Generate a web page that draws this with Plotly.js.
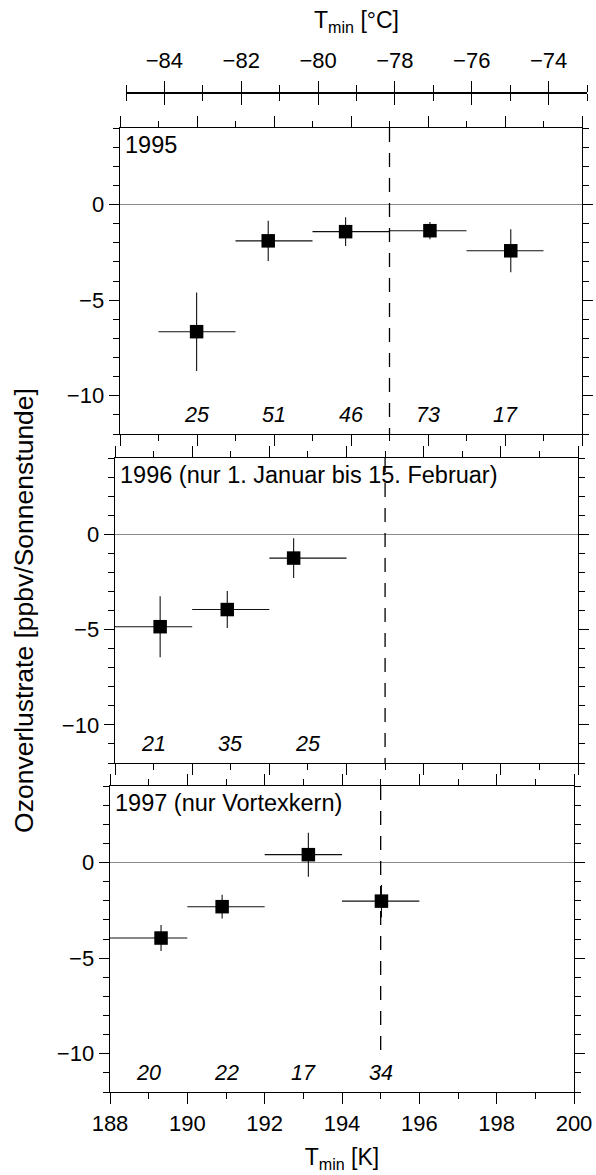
<!DOCTYPE html>
<html>
<head>
<meta charset="utf-8">
<script src="https://cdn.plot.ly/plotly-3.0.1.min.js"></script>
<style>
  html, body { margin: 0; padding: 0; background: #fff; }
  #chart { width: 596px; height: 1175px; }
</style>
</head>
<body>
<div id="chart"></div>
<script>
// ---- data ----
const kelvinRange = [188, 200];
const celsiusRange = [-85, -73];
const rateRange = [-12, 4];
const thresholdK = 195;

const panelLabels = ["1995", "1996 (nur 1. Januar bis 15. Februar)", "1997 (nur Vortexkern)"];

// 1995
const t1995 = [189.99, 191.85, 193.86, 196.05, 198.15];
const r1995 = [-6.65, -1.90, -1.42, -1.37, -2.42];
const e1995 = [2.05, 1.05, 0.75, 0.45, 1.12];
const lo1995 = [189, 191, 193, 195, 197];
const hi1995 = [191, 193, 195, 197, 199];
const n1995 = [25, 51, 46, 73, 17];

// 1996
const t1996 = [189.17, 190.91, 192.63];
const r1996 = [-4.85, -3.95, -1.25];
const e1996 = [1.60, 0.97, 1.04];
const lo1996 = [188, 190, 192];
const hi1996 = [190, 192, 194];
const n1996 = [21, 35, 25];

// 1997
const t1997 = [189.32, 190.90, 193.13, 195.02];
const r1997 = [-3.95, -2.31, 0.41, -2.02];
const e1997 = [0.68, 0.62, 1.15, 0.85];
const lo1997 = [188, 190, 192, 194];
const hi1997 = [190, 192, 194, 196];
const n1997 = [20, 22, 17, 34];

const countLevel = -11;

// ---- layout helpers ----
const W = 596, H = 1175;
const px = v => v / W;
const py = v => 1 - v / H;
const FONT = "Liberation Sans, Arial, Helvetica, sans-serif";

const panels = [
  { t: t1995, r: r1995, e: e1995, lo: lo1995, hi: hi1995, n: n1995, xd: [px(120), px(582)], yd: [py(434), py(128)], dashEnd: -12 },
  { t: t1996, r: r1996, e: e1996, lo: lo1996, hi: hi1996, n: n1996, xd: [px(115), px(578)], yd: [py(763), py(458)], dashEnd: -12 },
  { t: t1997, r: r1997, e: e1997, lo: lo1997, hi: hi1997, n: n1997, xd: [px(110), px(574)], yd: [py(1092), py(786)], dashEnd: -10 }
];

const traces = [];
const annotations = [];
const shapes = [];
const layout = {
  width: W, height: H,
  margin: { l: 0, r: 0, t: 0, b: 0, pad: 0 },
  paper_bgcolor: "#fff", plot_bgcolor: "rgba(0,0,0,0)",
  showlegend: false,
  font: { family: FONT, size: 22, color: "#000" },
  annotations: annotations,
  shapes: shapes
};

panels.forEach((p, i) => {
  const k = i + 1;
  const xs = k === 1 ? "" : String(k);
  const xName = "x" + xs, yName = "y" + xs;
  traces.push({
    type: "scatter", mode: "markers",
    x: p.t, y: p.r,
    xaxis: xName, yaxis: yName,
    marker: { symbol: "square", size: 13.5, color: "#000" },
    error_x: { type: "data", symmetric: false,
      array: p.hi.map((h, j) => h - p.t[j]),
      arrayminus: p.lo.map((l, j) => p.t[j] - l),
      width: 0, thickness: 1.1, color: "#111" },
    error_y: { type: "data", array: p.e, width: 0, thickness: 1.1, color: "#111" },
    hoverinfo: "x+y"
  });
  const isBottom = k === 3;
  const xa = {
    domain: p.xd, anchor: yName, range: kelvinRange,
    tick0: 188, dtick: 2, ticks: "outside", ticklen: 11, tickwidth: 1, tickcolor: "#000",
    showline: true, linecolor: "#000", linewidth: 1.4, mirror: "ticks",
    showgrid: false, zeroline: false,
    showticklabels: isBottom,
    tickfont: { size: 22 },
    minor: { dtick: 1, tick0: 188, ticks: "outside", ticklen: 6, tickwidth: 1, tickcolor: "#000", showgrid: false }
  };
  if (isBottom) xa.title = { text: "T<sub>min</sub> [K]", font: { size: 23 }, standoff: 14 };
  layout["xaxis" + xs] = xa;
  const ya = {
    domain: p.yd, anchor: xName, range: rateRange,
    tick0: 0, dtick: 5, ticks: "outside", ticklen: 10, tickwidth: 1, tickcolor: "#000",
    showline: true, linecolor: "#000", linewidth: 1.4, mirror: "ticks",
    showgrid: false,
    zeroline: true, zerolinecolor: "#8a8a8a", zerolinewidth: 1,
    tickfont: { size: 22 },
    minor: { dtick: 1, tick0: 0, ticks: "outside", ticklen: 6, tickwidth: 1, tickcolor: "#000", showgrid: false }
  };
  if (k === 2) ya.title = { text: "Ozonverlustrate [ppbv/Sonnenstunde]", font: { size: 26.5 }, standoff: 20 };
  layout["yaxis" + xs] = ya;
  // counts
  p.n.forEach((c, j) => {
    annotations.push({
      xref: xName, yref: yName, x: (p.lo[j] + p.hi[j]) / 2, y: countLevel,
      text: "<i>" + c + "</i>", showarrow: false, font: { size: 21.5, family: FONT }
    });
  });
  // panel label
  annotations.push({
    xref: xName + " domain", yref: yName + " domain", x: 0, y: 1,
    xanchor: "left", yanchor: "top", xshift: 3, yshift: -2,
    text: panelLabels[i], showarrow: false, font: { size: 23.5, family: FONT }
  });
  // threshold dashed line
  shapes.push({
    type: "line", xref: xName, yref: yName,
    x0: thresholdK, x1: thresholdK, y0: rateRange[1], y1: p.dashEnd,
    line: { color: "#000", width: 1.3, dash: "14px,11px" }
  });
});

// Celsius axis on top (crossing ticks via tiny mirrored subplot)
traces.push({ type: "scatter", mode: "markers", x: [celsiusRange[0]], y: [-1], xaxis: "x4", yaxis: "y4", marker: { opacity: 0 }, hoverinfo: "skip" });
layout.xaxis4 = {
  domain: [px(126), px(587)], anchor: "y4", side: "top", range: celsiusRange,
  tick0: -84, dtick: 2, ticks: "outside", ticklen: 11, tickwidth: 1, tickcolor: "#000",
  showline: true, linecolor: "#000", linewidth: 1, mirror: "ticks",
  showgrid: false, zeroline: false,
  tickfont: { size: 22 }, ticklabelstandoff: 4,
  minor: { dtick: 1, tick0: -85, ticks: "outside", ticklen: 7, tickwidth: 1, tickcolor: "#000", showgrid: false },
  title: { text: "T<sub>min</sub> [°C]", font: { size: 23 }, standoff: 12 }
};
layout.yaxis4 = { domain: [py(93.4), py(92.6)], anchor: "x4", range: [0, 1], visible: false };

Plotly.newPlot("chart", traces, layout, { displayModeBar: false, staticPlot: true }).then(gd => {
  // drop empty placeholder title texts that plotly creates for untitled axes
  gd.querySelectorAll("text").forEach(t => { if (!t.textContent.trim()) t.remove(); });
});
</script>
</body>
</html>
